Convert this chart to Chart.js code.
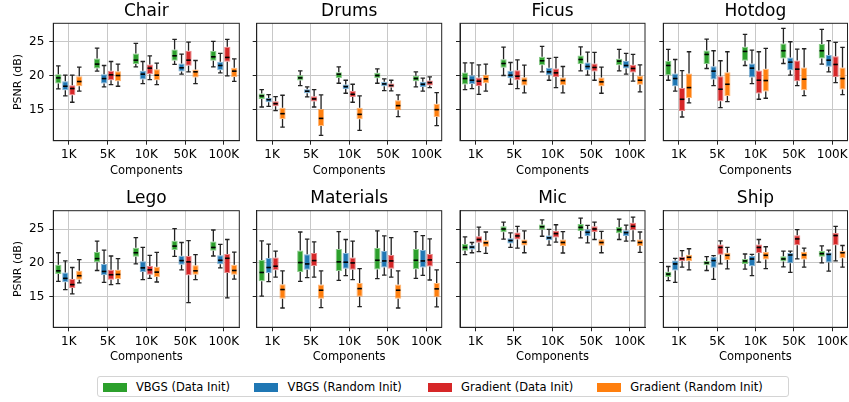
<!DOCTYPE html>
<html>
<head>
<meta charset="utf-8">
<script src="https://cdn.jsdelivr.net/npm/chart.js@4.4.1/dist/chart.umd.min.js"></script>
<style>
  body { margin: 0; background: #fff; }
  #wrap { position: relative; width: 849px; height: 402px; overflow: hidden; background: #fff;
          font-family: "DejaVu Sans", sans-serif; }
  #wrap canvas { position: absolute; left: 0; top: 0; }
  #legend { position: absolute; left: 97px; top: 376px; width: 692px; height: 21px;
            border: 1px solid #d4d4d4; border-radius: 3px; box-sizing: border-box; }
  #legend .patch { position: absolute; top: 5.5px; width: 24px; height: 9px; }
  #legend .txt { position: absolute; top: 0; line-height: 20px; font-size: 11.5px; color: #000; white-space: nowrap; }
</style>
</head>
<body>
<div id="wrap">
  <div id="legend"></div>
</div>
<script>
const categories = ['1K', '5K', '10K', '50K', '100K'];
const seriesNames = ['VBGS (Data Init)', 'VBGS (Random Init)', 'Gradient (Data Init)', 'Gradient (Random Init)'];
const seriesColors = ['#2ca02c', '#1f77b4', '#d62728', '#ff7f0e'];
const yTicks = [15, 20, 25];

// each box: [whisker low, q1, median, q3, whisker high], one row per series
const chair = [
  [[18.09, 18.87, 19.7, 20.25, 21.47], [20.69, 21.08, 21.72, 22.55, 24.07], [21.32, 21.72, 22.3, 23.28, 24.75], [21.67, 22.2, 22.94, 23.87, 25.34], [21.32, 22.2, 22.79, 23.63, 25.05]],
  [[17.06, 17.9, 18.48, 19.2, 20.1], [18.38, 18.87, 19.6, 20.25, 21.52], [18.87, 19.46, 20.25, 20.74, 22.1], [20.25, 20.64, 21.18, 21.81, 23.19], [20.44, 20.83, 21.52, 22.06, 23.28]],
  [[16.13, 17.16, 18.14, 18.63, 20.1], [18.73, 19.36, 20.15, 20.74, 22.1], [19.46, 20.25, 21.13, 21.67, 22.94], [20.59, 21.47, 22.3, 23.68, 24.95], [20.0, 22.06, 22.7, 24.26, 25.34]],
  [[17.75, 18.48, 19.17, 19.95, 21.27], [18.48, 19.2, 20.05, 20.69, 21.72], [18.73, 19.36, 20.1, 20.98, 21.86], [18.87, 19.75, 20.59, 20.93, 22.25], [19.2, 19.85, 20.69, 21.18, 22.5]]
];
const drums = [
  [[15.44, 16.62, 17.06, 17.4, 17.99], [18.58, 19.31, 19.7, 20.1, 20.74], [18.92, 19.7, 20.25, 20.54, 21.32], [18.92, 19.66, 20.05, 20.44, 21.03], [18.38, 19.22, 19.61, 20.0, 20.59]],
  [[15.54, 16.13, 16.52, 16.76, 17.25], [16.91, 17.45, 17.75, 18.04, 18.38], [17.45, 18.09, 18.43, 18.73, 19.36], [17.84, 18.48, 18.82, 19.12, 19.56], [17.75, 18.38, 18.77, 19.12, 19.66]],
  [[14.9, 15.54, 15.93, 16.27, 16.96], [15.44, 16.23, 16.62, 17.01, 17.99], [16.13, 16.91, 17.3, 17.79, 18.77], [17.79, 18.28, 18.58, 18.87, 19.36], [18.28, 18.58, 19.02, 19.31, 19.85]],
  [[12.5, 13.68, 14.46, 15.34, 17.16], [11.27, 12.65, 13.77, 15.15, 17.2], [12.01, 13.63, 14.36, 15.34, 17.06], [14.02, 14.95, 15.64, 16.42, 17.2], [12.7, 13.97, 15.05, 15.93, 17.55]]
];
const ficus = [
  [[17.99, 18.73, 19.61, 20.49, 21.91], [20.05, 21.18, 21.81, 22.45, 24.22], [20.59, 21.57, 22.21, 22.79, 24.31], [20.74, 21.72, 22.4, 22.99, 24.26], [20.74, 21.57, 22.16, 22.5, 23.87]],
  [[18.14, 18.82, 19.36, 20.1, 21.91], [18.77, 19.66, 20.1, 20.74, 21.96], [19.36, 20.1, 20.59, 21.18, 22.55], [20.1, 20.83, 21.37, 21.96, 23.48], [20.25, 21.08, 21.52, 22.16, 23.28]],
  [[17.3, 18.53, 19.22, 19.75, 21.62], [18.14, 19.36, 19.95, 20.83, 22.35], [18.28, 19.85, 20.44, 21.08, 22.7], [19.36, 20.64, 21.23, 21.81, 23.43], [19.22, 20.49, 21.08, 21.62, 23.14]],
  [[17.75, 18.92, 19.56, 20.15, 21.72], [17.5, 18.58, 19.31, 19.8, 21.57], [17.5, 18.63, 19.31, 19.75, 21.37], [17.45, 18.48, 19.12, 19.75, 21.27], [17.65, 18.68, 19.36, 20.0, 21.62]]
];
const hotdog = [
  [[19.36, 20.1, 21.52, 22.16, 23.87], [21.08, 21.72, 23.14, 23.73, 25.39], [21.52, 22.21, 23.58, 24.26, 26.08], [21.81, 22.55, 23.68, 24.75, 26.96], [21.72, 22.55, 23.68, 24.66, 26.81]],
  [[17.75, 18.48, 19.61, 20.34, 22.4], [18.58, 19.46, 20.69, 21.42, 23.68], [18.87, 19.75, 21.13, 21.81, 23.77], [20.1, 20.83, 22.01, 22.7, 25.0], [20.59, 21.32, 22.3, 23.04, 25.15]],
  [[13.97, 14.85, 16.57, 18.23, 20.78], [15.34, 16.27, 18.04, 19.95, 22.21], [16.57, 17.4, 19.36, 20.78, 23.53], [18.58, 19.22, 20.98, 22.25, 23.92], [19.02, 19.85, 21.67, 22.89, 24.9]],
  [[16.03, 16.76, 18.28, 20.34, 23.53], [16.23, 17.06, 18.77, 20.54, 23.53], [16.72, 17.7, 19.31, 21.03, 24.02], [17.11, 17.89, 19.51, 21.23, 23.97], [17.25, 17.99, 19.61, 21.23, 24.17]]
];
const lego = [
  [[17.28, 18.35, 18.83, 19.71, 21.5], [18.88, 20.1, 20.63, 21.6, 23.2], [19.85, 20.92, 21.5, 22.23, 23.74], [20.97, 21.89, 22.48, 23.25, 25.05], [21.02, 21.8, 22.28, 23.16, 24.85]],
  [[16.07, 17.14, 17.72, 18.59, 20.29], [17.14, 18.2, 18.74, 19.85, 21.89], [17.52, 18.64, 19.27, 20.24, 22.28], [18.98, 19.71, 20.34, 21.07, 23.01], [19.27, 19.81, 20.39, 21.12, 22.72]],
  [[15.44, 16.31, 16.8, 17.62, 19.32], [16.8, 17.52, 18.25, 18.98, 21.02], [17.72, 18.25, 18.98, 19.56, 21.12], [14.13, 18.16, 20.15, 21.02, 23.3], [14.85, 18.5, 20.68, 21.31, 23.45]],
  [[17.04, 17.52, 18.11, 18.83, 20.49], [16.94, 17.62, 18.3, 18.98, 20.63], [17.18, 17.91, 18.64, 19.42, 21.55], [17.52, 18.25, 18.83, 19.66, 21.21], [17.62, 18.25, 18.88, 19.71, 21.6]]
];
const materials = [
  [[15.1, 17.28, 18.59, 20.44, 23.25], [17.28, 18.64, 20.05, 21.84, 24.56], [17.43, 18.79, 20.15, 22.04, 24.61], [17.67, 19.03, 20.39, 22.18, 24.71], [17.72, 19.08, 20.39, 22.04, 24.61]],
  [[17.23, 18.5, 19.32, 20.73, 22.77], [17.82, 18.98, 19.85, 21.26, 23.5], [18.11, 19.13, 20.1, 21.46, 23.45], [18.2, 19.32, 20.29, 21.75, 23.98], [18.16, 19.32, 20.29, 21.89, 24.03]],
  [[17.91, 18.93, 19.51, 20.78, 21.75], [17.91, 19.56, 20.34, 21.46, 23.11], [17.52, 18.98, 20.0, 20.78, 23.2], [17.91, 19.13, 20.29, 21.17, 23.74], [17.48, 19.47, 20.44, 21.31, 23.54]],
  [[13.35, 14.71, 16.07, 16.84, 18.83], [13.4, 14.71, 15.97, 16.8, 18.83], [13.54, 15.0, 16.21, 17.04, 19.17], [13.35, 14.71, 15.97, 16.8, 18.83], [13.5, 14.95, 16.17, 17.04, 18.98]]
];
const mic = [
  [[21.21, 21.8, 22.28, 22.77, 23.83], [23.5, 24.51, 25.0, 25.39, 26.02], [23.93, 24.9, 25.34, 25.68, 26.36], [23.69, 24.71, 25.24, 25.73, 26.6], [23.45, 24.37, 24.9, 25.29, 26.46]],
  [[21.5, 21.99, 22.33, 22.62, 23.01], [22.28, 22.86, 23.3, 23.64, 24.42], [22.62, 23.35, 23.69, 24.03, 24.95], [22.96, 23.98, 24.51, 24.95, 25.53], [23.2, 23.98, 24.47, 24.81, 25.58]],
  [[21.65, 22.96, 23.45, 23.93, 25.29], [22.18, 23.45, 23.98, 24.47, 25.39], [23.06, 23.74, 24.32, 24.76, 25.63], [23.45, 24.56, 25.0, 25.39, 26.02], [23.25, 24.81, 25.39, 25.92, 26.75]],
  [[21.41, 22.38, 22.96, 23.35, 24.56], [21.5, 22.57, 23.06, 23.45, 24.71], [21.46, 22.48, 23.01, 23.45, 24.61], [21.5, 22.52, 23.01, 23.5, 24.66], [21.55, 22.48, 23.01, 23.45, 24.56]]
];
const ship = [
  [[17.38, 17.91, 18.35, 18.69, 19.47], [18.88, 19.66, 20.0, 20.29, 20.92], [19.08, 19.85, 20.29, 20.58, 21.31], [19.42, 20.19, 20.58, 20.97, 21.75], [20.0, 20.92, 21.36, 21.75, 22.52]],
  [[17.14, 18.88, 19.85, 20.34, 20.68], [17.57, 19.27, 20.34, 20.92, 21.07], [18.11, 19.51, 20.58, 21.07, 21.26], [18.59, 19.95, 21.17, 21.46, 21.75], [18.79, 20.05, 21.26, 21.55, 21.89]],
  [[19.37, 20.24, 20.63, 20.92, 21.8], [19.85, 21.21, 22.28, 22.72, 23.25], [20.1, 21.46, 22.28, 22.72, 23.45], [20.58, 22.62, 23.54, 24.08, 24.9], [20.29, 22.62, 24.03, 24.42, 25.39]],
  [[18.98, 20.24, 20.83, 21.21, 22.09], [19.13, 20.44, 21.12, 21.5, 22.28], [19.17, 20.49, 21.12, 21.6, 22.38], [19.37, 20.49, 21.17, 21.65, 22.18], [19.37, 20.68, 21.5, 21.75, 22.57]]
];

const sceneTitles = ['Chair', 'Drums', 'Ficus', 'Hotdog', 'Lego', 'Materials', 'Mic', 'Ship'];
const sceneData = [chair, drums, ficus, hotdog, lego, materials, mic, ship];

// page layout (pixels)
const CANVAS_W = 880, CANVAS_H = 402;
const PLOT_L = [53.3, 256.7, 460, 663.3];
const PLOT_R = [239.3, 441.7, 645, 847.5];
const PLOT_T = [23.3, 210.7];
const PLOT_B = [140.7, 327.3];
const TITLE_H = 23.3, XAXIS_H = 40;
const Y_MIN = 10.5, Y_MAX = 27.7, X_MIN = -0.4, X_MAX = 4.4;
const GRID = '#c8c8c8', INK = '#222';

Chart.defaults.font.family = '"DejaVu Sans", sans-serif';
Chart.defaults.color = '#000';

function fade(hex, a) {
  const n = parseInt(hex.slice(1), 16);
  return `rgba(${n >> 16},${(n >> 8) & 255},${n & 255},${a})`;
}

// whiskers, caps and medians on top of the floating q1-q3 bars
const boxWhiskers = {
  id: 'boxWhiskers',
  afterDatasetsDraw(chart) {
    const ctx = chart.ctx, y = chart.scales.y;
    ctx.save();
    chart.data.datasets.forEach((ds, di) => {
      chart.getDatasetMeta(di).data.forEach((bar, i) => {
        const [lo, q1, med, q3, hi] = ds.stats[i];
        const x = bar.x, w = bar.width;
        ctx.strokeStyle = INK;
        ctx.lineWidth = 1.3;
        ctx.beginPath();
        ctx.moveTo(x, y.getPixelForValue(q3)); ctx.lineTo(x, y.getPixelForValue(hi));
        ctx.moveTo(x, y.getPixelForValue(q1)); ctx.lineTo(x, y.getPixelForValue(lo));
        const cw = w * 0.36;
        ctx.moveTo(x - cw, y.getPixelForValue(hi)); ctx.lineTo(x + cw, y.getPixelForValue(hi));
        ctx.moveTo(x - cw, y.getPixelForValue(lo)); ctx.lineTo(x + cw, y.getPixelForValue(lo));
        ctx.stroke();
        ctx.strokeStyle = '#000';
        ctx.lineWidth = 1.6;
        ctx.beginPath();
        const mw = w * 0.36;
        ctx.moveTo(x - mw, y.getPixelForValue(med)); ctx.lineTo(x + mw, y.getPixelForValue(med));
        ctx.stroke();
      });
    });
    ctx.restore();
  }
};

const frame = {
  id: 'frame',
  afterDraw(chart) {
    const { ctx, chartArea: a } = chart;
    ctx.save();
    ctx.strokeStyle = INK;
    ctx.lineWidth = 1;
    ctx.strokeRect(a.left, a.top, a.right - a.left, a.bottom - a.top);
    ctx.restore();
  }
};

const wrap = document.getElementById('wrap');

sceneTitles.forEach((title, k) => {
  const r = Math.floor(k / 4), c = k % 4;
  const stats = sceneData[k];
  const yw = c === 0 ? PLOT_L[0] : 8;
  const cv = document.createElement('canvas');
  cv.width = CANVAS_W;
  cv.height = CANVAS_H;
  wrap.appendChild(cv);

  new Chart(cv, {
    type: 'bar',
    data: {
      datasets: seriesNames.map((name, s) => ({
        label: name,
        data: stats[s].map((b, i) => ({ x: i, y: [b[1], b[3]] })),
        stats: stats[s],
        backgroundColor: seriesColors[s],
        borderColor: fade(seriesColors[s], 0.55),
        borderWidth: 1,
        borderSkipped: false,
        categoryPercentage: 0.72,
        barPercentage: 0.9
      }))
    },
    options: {
      responsive: false,
      animation: false,
      devicePixelRatio: 1,
      layout: {
        padding: {
          left: PLOT_L[c] - yw,
          right: CANVAS_W - PLOT_R[c],
          top: PLOT_T[r] - TITLE_H,
          bottom: CANVAS_H - PLOT_B[r] - XAXIS_H
        }
      },
      plugins: {
        legend: { display: false },
        tooltip: { enabled: false },
        title: {
          display: true, text: title, fullSize: false, color: '#000',
          font: { size: 17, weight: 'normal' },
          padding: { top: 1.4, bottom: 1.5 }
        }
      },
      scales: {
        x: {
          type: 'linear', min: X_MIN, max: X_MAX, bounds: 'data', offset: false,
          afterBuildTicks: ax => { ax.ticks = categories.map((_, i) => ({ value: i })); },
          afterFit: ax => { ax.height = XAXIS_H; },
          grid: { offset: false, color: GRID, lineWidth: 1, tickLength: 4, tickColor: INK, tickWidth: 1 },
          border: { display: true, color: INK, width: 1 },
          ticks: { callback: v => categories[v], autoSkip: false, maxRotation: 0, padding: 3, color: '#000', font: { size: 12 } },
          title: { display: true, text: 'Components', color: '#000', font: { size: 11.5 }, padding: { top: 0, bottom: 3 } }
        },
        y: {
          min: Y_MIN, max: Y_MAX, bounds: 'data',
          afterBuildTicks: ax => { ax.ticks = yTicks.map(v => ({ value: v })); },
          afterFit: ax => { ax.width = yw; },
          grid: { color: GRID, lineWidth: 1, tickLength: 4, tickColor: INK, tickWidth: 1 },
          border: { display: true, color: INK, width: 1 },
          ticks: { display: c === 0, padding: 5, color: '#000', font: { size: 12 } },
          title: { display: c === 0, text: 'PSNR (dB)', color: '#000', font: { size: 11 }, padding: { top: 11.4, bottom: 0 } }
        }
      }
    },
    plugins: [boxWhiskers, frame]
  });
});

// legend
const legend = document.getElementById('legend');
const legendX = [4.7, 156.3, 329.7, 499];
seriesNames.forEach((name, s) => {
  const p = document.createElement('div');
  p.className = 'patch';
  p.style.left = legendX[s] + 'px';
  p.style.background = seriesColors[s];
  legend.appendChild(p);
  const t = document.createElement('div');
  t.className = 'txt';
  t.style.left = (legendX[s] + 33.3) + 'px';
  t.textContent = name;
  legend.appendChild(t);
});
</script>
</body>
</html>
